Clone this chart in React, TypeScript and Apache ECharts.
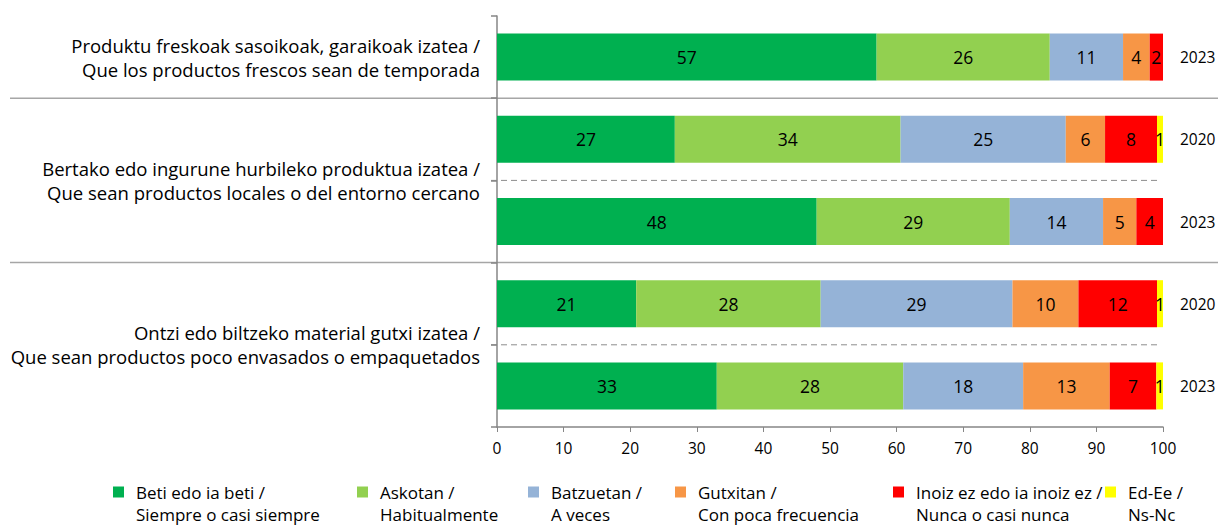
import React, { useEffect, useRef } from "react";
import * as echarts from "echarts";

// ---- data ----
const rowKeys = ["fresh-2023", "local-2020", "local-2023", "pack-2020", "pack-2023"];
const rowYears = ["2023", "2020", "2023", "2020", "2023"];
const groupLabels = [
  "Produktu freskoak sasoikoak, garaikoak izatea /\nQue los productos frescos sean de temporada",
  "Bertako edo ingurune hurbileko produktua izatea /\nQue sean productos locales o del entorno cercano",
  "Ontzi edo biltzeko material gutxi izatea /\nQue sean productos poco envasados o empaquetados",
];
const groupRows = [[0], [1, 2], [3, 4]];
const seriesNames = [
  "Beti edo ia beti /\nSiempre o casi siempre",
  "Askotan /\nHabitualmente",
  "Batzuetan /\nA veces",
  "Gutxitan /\nCon poca frecuencia",
  "Inoiz ez edo ia inoiz ez /\nNunca o casi nunca",
  "Ed-Ee /\nNs-Nc",
];
const beti = [57, 26.7, 48, 20.9, 33];
const askotan = [26, 33.9, 29, 27.7, 28];
const batzuetan = [11, 24.8, 14, 28.8, 18];
const gutxitan = [4, 5.9, 5, 9.9, 13];
const inoiz = [2, 7.8, 4, 11.8, 7];
const edee = [0, 0.9, 0, 0.9, 1];
const seriesValues = [beti, askotan, batzuetan, gutxitan, inoiz, edee];
const xTicks = { min: 0, max: 100, interval: 10 };

// ---- styles ----
const colors = ["#00B050", "#92D050", "#95B3D7", "#F79646", "#FF0000", "#FFFF00"];
const FONT = "Open Sans";
const W = 1220;
const H = 527;
const GRID_LEFT = 497;
const GRID_RIGHT = 57;
const GRID_TOP = 16;
const GRID_BOTTOM = 100;
const legendX = [113, 357, 528, 675, 893, 1105];

export default function App() {
  const ref = useRef<HTMLDivElement>(null);
  useEffect(() => {
    document.body.style.margin = "0";
    const chart = echarts.init(ref.current!, null, { renderer: "svg" });
    const gridH = H - GRID_TOP - GRID_BOTTOM;
    const band = gridH / rowKeys.length;
    const boundaryY = (k: number) => GRID_TOP + k * band;

    const graphics: any[] = [];
    // solid separators between groups
    [1, 3].forEach((k) => {
      graphics.push({
        type: "line",
        shape: { x1: 10, y1: boundaryY(k), x2: W - 2, y2: boundaryY(k) },
        style: { stroke: "#A6A6A6", lineWidth: 1.5 },
        silent: true,
      });
    });
    // dashed separators within groups
    [2, 4].forEach((k) => {
      graphics.push({
        type: "line",
        shape: { x1: GRID_LEFT - 6, y1: boundaryY(k), x2: W - GRID_RIGHT - 3, y2: boundaryY(k) },
        style: { stroke: "#8C8C8C", lineWidth: 1, lineDash: [6, 4] },
        silent: true,
      });
    });
    // group labels
    groupLabels.forEach((t, i) => {
      const rows = groupRows[i];
      const yc = (boundaryY(rows[0]) + boundaryY(rows[rows.length - 1] + 1)) / 2;
      graphics.push({
        type: "text",
        x: GRID_LEFT - 17,
        y: yc,
        style: {
          text: t,
          align: "right",
          verticalAlign: "middle",
          fontFamily: FONT,
          fontSize: 18.5,
          lineHeight: 24,
          fill: "#000",
        },
        silent: true,
      });
    });

    const option: any = {
      animation: false,
      backgroundColor: "#fff",
      textStyle: { fontFamily: FONT },
      grid: { left: GRID_LEFT, right: GRID_RIGHT, top: GRID_TOP, bottom: GRID_BOTTOM, containLabel: false },
      legend: seriesNames.map((n, i) => ({
        data: [n],
        left: legendX[i],
        top: 459,
        padding: 0,
        itemWidth: 11,
        itemHeight: 11,
        icon: "rect",
        selectedMode: false,
        formatter: (name: string) => " \n" + name,
        textStyle: {
          fontFamily: FONT,
          fontSize: 17,
          lineHeight: 22,
          color: "#000",
          padding: [0, 0, 0, 7],
        },
      })),
      xAxis: {
        type: "value",
        min: xTicks.min,
        max: xTicks.max,
        interval: xTicks.interval,
        splitLine: { show: false },
        axisLine: { show: true, lineStyle: { color: "#868686", width: 1.5 } },
        axisTick: { show: true, length: 5, lineStyle: { color: "#868686" } },
        axisLabel: { color: "#000", fontSize: 15.5, margin: 13, fontFamily: FONT },
      },
      yAxis: [
        {
          type: "category",
          data: rowKeys,
          inverse: true,
          axisLine: { show: true, lineStyle: { color: "#868686", width: 1.5 } },
          axisTick: { show: true, length: 6, lineStyle: { color: "#868686", width: 1.5 } },
          axisLabel: { show: false },
          splitLine: { show: false },
        },
        {
          type: "category",
          data: rowYears,
          inverse: true,
          position: "right",
          axisLine: { show: false },
          axisTick: { show: false },
          axisLabel: { color: "#000", fontSize: 15.5, margin: 17, fontFamily: FONT },
          splitLine: { show: false },
        },
      ],
      series: seriesNames.map((n, i) => ({
        name: n,
        type: "bar",
        stack: "total",
        yAxisIndex: 0,
        barWidth: 47,
        itemStyle: { color: colors[i] },
        label: {
          show: true,
          position: "inside",
          color: "#000",
          fontSize: 17.5,
          fontFamily: FONT,
          formatter: (p: any) => (p.value > 0 ? String(Math.round(p.value)) : ""),
        },
        data: seriesValues[i],
      })),
      graphic: graphics,
    };
    chart.setOption(option);
    return () => chart.dispose();
  }, []);
  return <div ref={ref} style={{ width: W, height: H }} />;
}
